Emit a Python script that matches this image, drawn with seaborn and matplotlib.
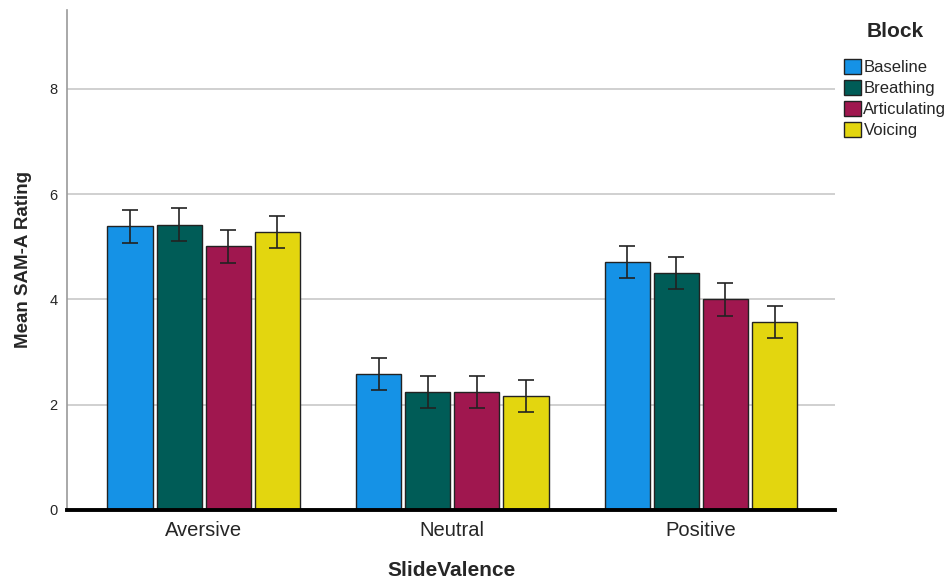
import matplotlib
matplotlib.use("Agg")
import matplotlib.pyplot as plt
import seaborn as sns
import pandas as pd
import numpy as np

valences = ["Aversive", "Neutral", "Positive"]
blocks = ["Baseline", "Breathing", "Articulating", "Voicing"]

# mean rating per block, one list per valence
aversive = [5.39, 5.42, 5.01, 5.28]
neutral = [2.58, 2.24, 2.24, 2.17]
positive = [4.71, 4.50, 4.00, 3.57]

# half-width of the error bars
aversive_err = [0.31, 0.31, 0.31, 0.31]
neutral_err = [0.30, 0.30, 0.30, 0.30]
positive_err = [0.31, 0.31, 0.31, 0.31]

block_colors = ["#1592e6", "#005c57", "#a0174f", "#e3d60f"]

rows = []
for v, means, errs in zip(valences, [aversive, neutral, positive],
                          [aversive_err, neutral_err, positive_err]):
    for b, m, e in zip(blocks, means, errs):
        rows.append({"SlideValence": v, "Block": b, "Mean": m, "Err": e})
df = pd.DataFrame(rows)

sns.set_theme(style="white")
plt.rcParams["font.family"] = ["Liberation Sans", "DejaVu Sans"]

fig = plt.figure(figsize=(9.49, 5.86), dpi=100)
ax = fig.add_axes([0.0706, 0.1297, 0.8094, 0.8533])

sns.barplot(data=df, x="SlideValence", y="Mean", hue="Block",
            order=valences, hue_order=blocks, palette=block_colors,
            errorbar=None, width=0.79, gap=0.08, saturation=1,
            edgecolor="#222222", linewidth=1.0, ax=ax, zorder=3)

# error bars at the centre of each drawn bar
bars = [p for p in ax.patches if p.get_height() > 0][:len(df)]
for i, b in enumerate(blocks):
    sub = df[df["Block"] == b].set_index("SlideValence").loc[valences]
    for j, v in enumerate(valences):
        patch = bars[i * len(valences) + j]
        cx = patch.get_x() + patch.get_width() / 2
        ax.errorbar(cx, sub.loc[v, "Mean"], yerr=sub.loc[v, "Err"],
                    fmt="none", ecolor="#222222", elinewidth=1.2,
                    capsize=6, capthick=1.2, zorder=4)

ax.set_ylim(0, 9.5)
ax.set_xlim(-0.55, 2.54)
ax.set_yticks([0, 2, 4, 6, 8])
ax.set_yticklabels(["0", "2", "4", "6", "8"], fontsize=10.5)
ax.tick_params(axis="x", labelsize=14.5, length=0, pad=8)
ax.tick_params(axis="y", length=0, pad=7)
ax.yaxis.grid(True, color="#c8c8c8", linewidth=1.2, zorder=0)
ax.set_axisbelow(True)

for s in ["top", "right"]:
    ax.spines[s].set_visible(False)
ax.spines["left"].set_color("#9a9a9a")
ax.spines["left"].set_linewidth(1.2)
ax.spines["bottom"].set_color("black")
ax.spines["bottom"].set_linewidth(2.8)
ax.spines["bottom"].set_zorder(5)

ax.set_xlabel("SlideValence", fontsize=15, fontweight="bold", labelpad=15)
ax.set_ylabel("Mean SAM-A Rating", fontsize=13.5, fontweight="bold", labelpad=12)

leg = ax.legend(title="Block", loc="upper left", bbox_to_anchor=(1.0, 0.995),
                frameon=False, fontsize=12, title_fontsize=15,
                handlelength=1.0, handleheight=1.0, handletextpad=0.15,
                labelspacing=0.3, borderaxespad=0.15, borderpad=0.4)
leg.get_title().set_fontweight("bold")
leg._legend_box.sep = 13
for h in leg.legend_handles:
    h.set_edgecolor("#222222")
    h.set_linewidth(1.0)

fig.savefig("out.png", dpi=100)
